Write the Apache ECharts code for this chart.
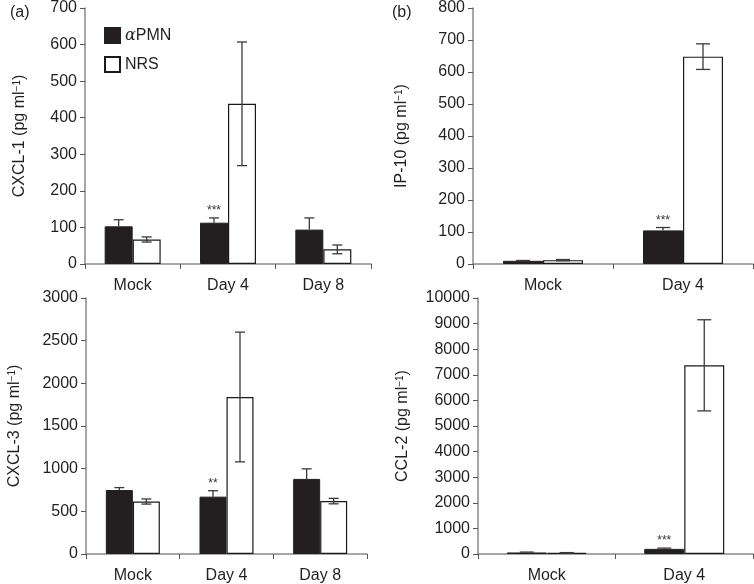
<!DOCTYPE html>
<html><head><meta charset="utf-8">
<script src="https://cdn.jsdelivr.net/npm/echarts@6/dist/echarts.min.js"></script>
<style>html,body{margin:0;padding:0;background:#fff}#c{width:754px;height:584px}</style>
</head><body><div id="c"></div>
<script>
// ---- data ----
const catsThree = ['Mock', 'Day 4', 'Day 8'];
const catsTwo = ['Mock', 'Day 4'];
const seriesNames = ['αPMN', 'NRS'];

const cxcl1PMN = [103, 113, 94];
const cxcl1PMNErr = [18, 13, 32];
const cxcl1NRS = [67, 438, 40];
const cxcl1NRSErr = [7, 169, 12];
const cxcl1Sig = ['', '***', ''];

const ip10PMN = [10, 105];
const ip10PMNErr = [1, 9];
const ip10NRS = [12, 648];
const ip10NRSErr = [2, 40];
const ip10Sig = ['', '***'];

const cxcl3PMN = [750, 672, 880];
const cxcl3PMNErr = [28, 70, 118];
const cxcl3NRS = [615, 1840, 620];
const cxcl3NRSErr = [30, 760, 32];
const cxcl3Sig = ['', '**', ''];

const ccl2PMN = [60, 200];
const ccl2PMNErr = [15, 30];
const ccl2NRS = [45, 7370];
const ccl2NRSErr = [10, 1780];
const ccl2Sig = ['', '***'];

// ---- chart ----
const FONT = '"Liberation Sans", Arial, sans-serif';
const AXIS_COLOR = '#8a8a8a';
const TEXT_COLOR = '#231f20';
const DARK = '#231f20';

const panels = [
  {grid:{left:85, right:383, top:8, bottom:320}, cats:catsThree, max:700, interval:100, bw:28, gap:57, cap:5,
   title:'CXCL-1', pmn:cxcl1PMN, pmnE:cxcl1PMNErr, nrs:cxcl1NRS, nrsE:cxcl1NRSErr, sig:cxcl1Sig},
  {grid:{left:473, right:1, top:8, bottom:320}, cats:catsTwo, max:800, interval:100, bw:40, gap:63, cap:7,
   title:'IP-10', pmn:ip10PMN, pmnE:ip10PMNErr, nrs:ip10NRS, nrsE:ip10NRSErr, sig:ip10Sig},
  {grid:{left:86, right:387, top:298, bottom:30}, cats:catsThree, max:3000, interval:500, bw:27, gap:63, cap:5,
   title:'CXCL-3', pmn:cxcl3PMN, pmnE:cxcl3PMNErr, nrs:cxcl3NRS, nrsE:cxcl3NRSErr, sig:cxcl3Sig},
  {grid:{left:478, right:1, top:298, bottom:30}, cats:catsTwo, max:10000, interval:1000, bw:40, gap:67, cap:7,
   title:'CCL-2', pmn:ccl2PMN, pmnE:ccl2PMNErr, nrs:ccl2NRS, nrsE:ccl2NRSErr, sig:ccl2Sig}
];

const grids = [], xAxes = [], yAxes = [], series = [];

panels.forEach((p, gi) => {
  grids.push(p.grid);
  xAxes.push({
    type:'category', gridIndex:gi, data:p.cats, boundaryGap:true,
    axisLine:{lineStyle:{color:AXIS_COLOR, width:1.5}},
    axisTick:{show:true, length:5, alignWithLabel:false, lineStyle:{color:'#555', width:1}},
    axisLabel:{color:TEXT_COLOR, fontFamily:FONT, fontSize:16, margin:14}
  });
  yAxes.push({
    type:'value', gridIndex:gi, min:0, max:p.max, interval:p.interval,
    name:p.title + ' (pg ml{sup|−1})', nameLocation:'middle', nameGap:p.gap, nameRotate:90,
    nameTextStyle:{color:TEXT_COLOR, fontFamily:FONT, fontSize:16,
      rich:{sup:{fontSize:10, verticalAlign:'top', padding:[0,0,6,0], color:TEXT_COLOR, fontFamily:FONT}}},
    axisLine:{show:true, lineStyle:{color:AXIS_COLOR, width:1.5}},
    axisTick:{show:true, length:5, lineStyle:{color:'#555', width:1}},
    splitLine:{show:false},
    axisLabel:{color:TEXT_COLOR, fontFamily:FONT, fontSize:16, margin:8, formatter:v => String(v)}
  });
  series.push({
    name:seriesNames[0], type:'bar', xAxisIndex:gi, yAxisIndex:gi, data:p.pmn,
    barWidth:p.bw, barGap:'0%', z:2,
    itemStyle:{color:DARK, borderColor:DARK, borderWidth:1}
  });
  series.push({
    name:seriesNames[1], type:'bar', xAxisIndex:gi, yAxisIndex:gi, data:p.nrs,
    barWidth:p.bw, barGap:'0%', z:2,
    itemStyle:{color:'#ffffff', borderColor:'#1a1a1a', borderWidth:1.2}
  });
  const bw = p.bw;
  const cap = p.cap;
  series.push({
    type:'custom', xAxisIndex:gi, yAxisIndex:gi, z:3, silent:true,
    data:p.pmn.map((v, i) => [i, v, v + p.pmnE[i]]),
    renderItem:(params, api) => {
      const i = api.value(0);
      const base = api.coord([i, api.value(1)]);
      const top = api.coord([i, api.value(2)]);
      const x = base[0] - bw / 2;
      const children = [
        {type:'line', shape:{x1:x, y1:base[1], x2:x, y2:top[1]}, style:{stroke:'#3a3a3a', lineWidth:1.3}},
        {type:'line', shape:{x1:x - cap, y1:top[1], x2:x + cap, y2:top[1]}, style:{stroke:'#3a3a3a', lineWidth:1.3}}
      ];
      const s = p.sig[i];
      if (s) children.push({type:'text', style:{text:s, x:x, y:top[1] - 1, align:'center', verticalAlign:'bottom',
        fill:'#333', font:'12px ' + FONT}});
      return {type:'group', children};
    }
  });
  series.push({
    type:'custom', xAxisIndex:gi, yAxisIndex:gi, z:3, silent:true,
    data:p.nrs.map((v, i) => [i, v - p.nrsE[i], v + p.nrsE[i]]),
    renderItem:(params, api) => {
      const i = api.value(0);
      const lo = api.coord([i, api.value(1)]);
      const hi = api.coord([i, api.value(2)]);
      const x = lo[0] + bw / 2;
      return {type:'group', children:[
        {type:'line', shape:{x1:x, y1:lo[1], x2:x, y2:hi[1]}, style:{stroke:'#3a3a3a', lineWidth:1.3}},
        {type:'line', shape:{x1:x - cap, y1:hi[1], x2:x + cap, y2:hi[1]}, style:{stroke:'#3a3a3a', lineWidth:1.3}},
        {type:'line', shape:{x1:x - cap, y1:lo[1], x2:x + cap, y2:lo[1]}, style:{stroke:'#3a3a3a', lineWidth:1.3}}
      ]};
    }
  });
});

const chart = echarts.init(document.getElementById('c'), null, {renderer:'canvas'});
chart.setOption({
  animation:false,
  backgroundColor:'#ffffff',
  grid:grids, xAxis:xAxes, yAxis:yAxes, series:series,
  legend:{
    data:seriesNames, orient:'vertical', left:99, top:22, itemWidth:15, itemHeight:15, itemGap:12,
    icon:'rect', selectedMode:false,
    formatter:name => name === 'αPMN' ? '{i|α}PMN' : name,
    textStyle:{color:TEXT_COLOR, fontFamily:FONT, fontSize:16,
      rich:{i:{fontStyle:'italic', fontFamily:'"DejaVu Serif", serif', fontSize:16, color:TEXT_COLOR}}}
  },
  graphic:[
    {type:'text', left:10, top:5, style:{text:'(a)', font:'16px ' + FONT, fill:TEXT_COLOR}},
    {type:'text', left:392, top:5, style:{text:'(b)', font:'16px ' + FONT, fill:TEXT_COLOR}}
  ]
});
</script>
</body></html>
